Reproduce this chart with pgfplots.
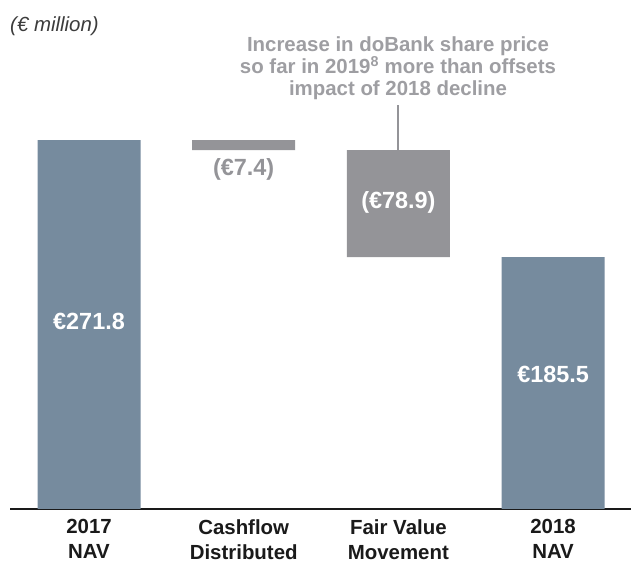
\documentclass[border=0pt]{standalone}
\usepackage{pgfplots}
\pgfplotsset{compat=1.18}
\usepackage{fontspec}
\setmainfont{Liberation Sans}
\definecolor{bluegrey}{RGB}{118,139,158}
\definecolor{midgrey}{RGB}{148,148,152}
\definecolor{annot}{RGB}{158,158,162}
\definecolor{labtxt}{RGB}{26,26,26}
\begin{document}
\begin{tikzpicture}[x=1bp,y=1bp]
\useasboundingbox (0,0) rectangle (631,569);
\begin{axis}[
  at={(10bp,60bp)}, anchor=south west,
  scale only axis, width=621bp, height=509bp,
  xmin=-0.5108, xmax=3.504, ymin=0, ymax=375,
  ybar stacked, bar width=103bp,
  axis x line=bottom, axis y line=none,
  x axis line style={-, line width=1.6bp, color=labtxt},
  xtick={0,1,2,3},
  xticklabels={{2017\\NAV},{Cashflow\\Distributed},{Fair Value\\Movement},{2018\\NAV}},
  xticklabel style={align=center, font=\bfseries\fontsize{20.5}{25}\selectfont, text=labtxt, yshift=-7bp},
  major tick length=0pt,
  clip=false,
]
\addplot[draw=none, fill=none] coordinates {(0,0) (1,264.4) (2,185.5) (3,0)};
\addplot[draw=none, fill=bluegrey] coordinates {(0,271.8) (1,0) (2,0) (3,185.5)};
\addplot[draw=none, fill=midgrey] coordinates {(0,0) (1,7.4) (2,78.9) (3,0)};
\end{axis}
\begin{axis}[
  at={(10bp,60bp)}, anchor=south west,
  scale only axis, width=621bp, height=509bp,
  xmin=-0.5108, xmax=3.504, ymin=0, ymax=375,
  axis lines=none, clip=false,
]
\draw[midgrey, line width=2bp] (axis cs:2,264.4) -- (axis cs:2,297.6);
\node[anchor=base, text=white, font=\bfseries\fontsize{23.5}{28}\selectfont] at (axis cs:0,132.3) {€271.8};
\node[anchor=base, text=white, font=\bfseries\fontsize{23.5}{28}\selectfont] at (axis cs:3,93.5) {€185.5};
\node[anchor=base, text=white, font=\bfseries\fontsize{23.5}{28}\selectfont] at (axis cs:2,221.7) {(€78.9)};
\node[anchor=base, text=midgrey, font=\bfseries\fontsize{23.5}{28}\selectfont] at (axis cs:1,246.0) {(€7.4)};
\end{axis}
\node[anchor=base west, text=labtxt!85, font=\itshape\fontsize{20.5}{24}\selectfont, inner sep=0pt] at (10,537) {(€ million)};
\node[anchor=base, inner sep=0pt, text=annot, font=\bfseries\fontsize{20.5}{22}\selectfont] at (398,517) {Increase in doBank share price};
\node[anchor=base, inner sep=0pt, text=annot, font=\bfseries\fontsize{20.5}{22}\selectfont] at (398,495) {so far in 2019\textsuperscript{8} more than offsets};
\node[anchor=base, inner sep=0pt, text=annot, font=\bfseries\fontsize{20.5}{22}\selectfont] at (398,473) {impact of 2018 decline};
\end{tikzpicture}
\end{document}
